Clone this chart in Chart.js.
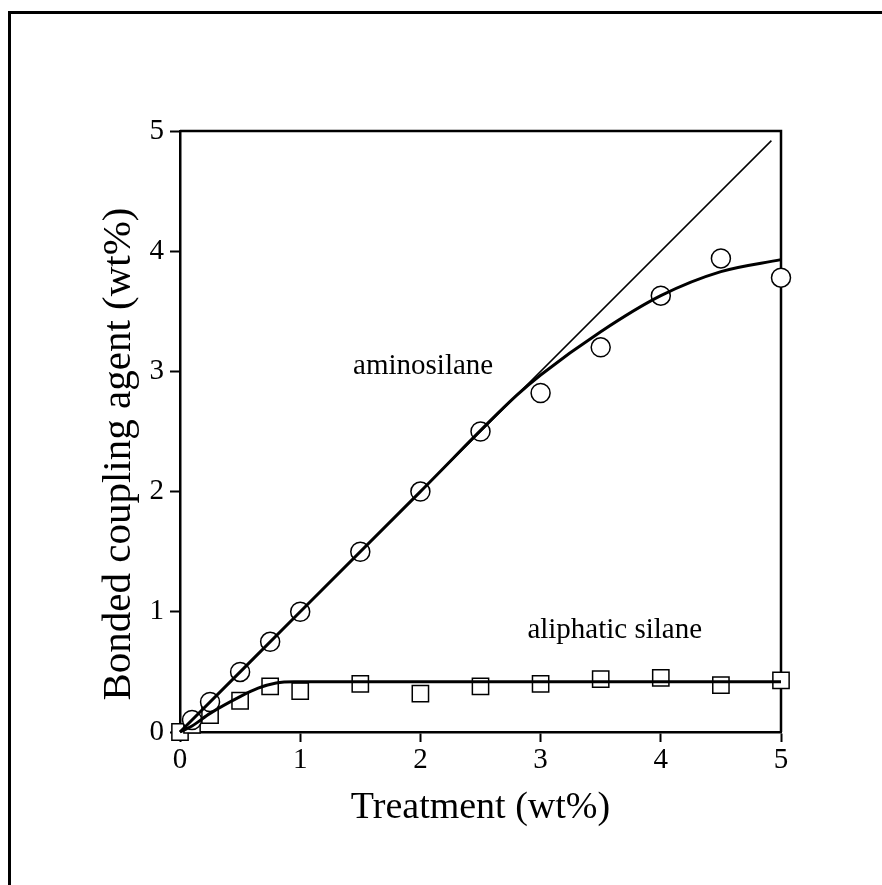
<!DOCTYPE html>
<html>
<head>
<meta charset="utf-8">
<title>Bonded coupling agent vs treatment</title>
<script src="https://cdn.jsdelivr.net/npm/chart.js@4.4.1/dist/chart.umd.min.js"></script>
<style>
    html, body { margin: 0; padding: 0; background: #fff; overflow: hidden; }
    #frame {
        position: absolute; left: 8px; top: 11px; width: 2000px; height: 2000px;
        border-left: 3px solid #000; border-top: 3px solid #000;
    }
    #chart { position: absolute; left: 0; top: 0; }
</style>
</head>
<body>
<div id="frame"></div>
<canvas id="chart" width="882" height="885"></canvas>
<script>
// measured points
const treatment = [0, 0.1, 0.25, 0.5, 0.75, 1, 1.5, 2, 2.5, 3, 3.5, 4, 4.5, 5];
const aminoX = [0.1, 0.25, 0.5, 0.75, 1, 1.5, 2, 2.5, 3, 3.5, 4, 4.5, 5];
const aminoY = [0.1, 0.25, 0.5, 0.75, 1, 1.5, 2, 2.5, 2.82, 3.2, 3.63, 3.94, 3.78];
const aliphY = [0, 0.06, 0.14, 0.26, 0.38, 0.34, 0.40, 0.32, 0.38, 0.40, 0.44, 0.45, 0.39, 0.43];

// fitted curves
const aminoFitX = [0, 1, 2, 2.8, 3, 3.5, 4, 4.5, 5];
const aminoFitY = [0, 1, 2, 2.8, 2.97, 3.33, 3.63, 3.83, 3.93];
const aliphFitX = [0, 0.1, 0.25, 0.5, 0.65, 0.8, 0.95, 5];
const aliphFitY = [0, 0.05, 0.155, 0.295, 0.365, 0.408, 0.418, 0.418];

// 1:1 reference line
const idealX = [0, 4.92];
const idealY = [0, 4.92];

const xTicks = [0, 1, 2, 3, 4, 5];
const yTicks = [0, 1, 2, 3, 4, 5];

const serif = "'Liberation Serif', 'Times New Roman', serif";

function pts(xs, ys) {
    return xs.map((x, i) => ({ x: x, y: ys[i] }));
}

// box around the plot, curve labels and the rotated y title
const decorations = {
    id: 'decorations',
    beforeDatasetsDraw(chart) {
        const { ctx, chartArea: a } = chart;
        ctx.save();
        ctx.strokeStyle = '#000';
        ctx.lineWidth = 2.5;
        ctx.beginPath();
        ctx.moveTo(a.left, a.top);
        ctx.lineTo(a.right, a.top);
        ctx.lineTo(a.right, a.bottom);
        ctx.stroke();
        ctx.restore();
    },
    afterDraw(chart) {
        const { ctx, scales } = chart;
        ctx.save();
        ctx.fillStyle = '#000';
        ctx.font = '29px ' + serif;
        ctx.textBaseline = 'alphabetic';
        ctx.textAlign = 'left';
        ctx.fillText('aminosilane', scales.x.getPixelForValue(1.44), scales.y.getPixelForValue(2.98));
        ctx.fillText('aliphatic silane', scales.x.getPixelForValue(2.89), scales.y.getPixelForValue(0.78));

        ctx.translate(119, 454);
        ctx.rotate(-Math.PI / 2);
        ctx.font = '41px ' + serif;
        ctx.textAlign = 'center';
        ctx.textBaseline = 'middle';
        ctx.fillText('Bonded coupling agent (wt%)', 0, 0);
        ctx.restore();
    }
};

new Chart(document.getElementById('chart'), {
    type: 'scatter',
    data: {
        datasets: [
            {
                label: 'aminosilane fit',
                data: pts(aminoFitX, aminoFitY),
                showLine: true,
                borderColor: '#000',
                borderWidth: 3,
                pointRadius: 0,
                cubicInterpolationMode: 'monotone',
                clip: false,
                order: 0
            },
            {
                label: 'aliphatic silane fit',
                data: pts(aliphFitX, aliphFitY),
                showLine: true,
                borderColor: '#000',
                borderWidth: 3,
                pointRadius: 0,
                cubicInterpolationMode: 'monotone',
                clip: false,
                order: 0
            },
            {
                label: '1:1',
                data: pts(idealX, idealY),
                showLine: true,
                borderColor: '#000',
                borderWidth: 1.5,
                pointRadius: 0,
                clip: false,
                order: 0
            },
            {
                label: 'aminosilane',
                data: pts(aminoX, aminoY),
                pointStyle: 'circle',
                pointRadius: 9.5,
                borderWidth: 1.5,
                borderColor: '#000',
                backgroundColor: '#fff',
                clip: false,
                order: 1
            },
            {
                label: 'aliphatic silane',
                data: pts(treatment, aliphY),
                pointStyle: 'rect',
                pointRadius: 11.5,
                borderWidth: 1.5,
                borderColor: '#000',
                backgroundColor: '#fff',
                clip: false,
                order: 1
            }
        ]
    },
    options: {
        responsive: false,
        animation: false,
        events: [],
        layout: { padding: { top: 131, right: 101, left: 0, bottom: 54 } },
        plugins: {
            legend: { display: false },
            tooltip: { enabled: false }
        },
        scales: {
            x: {
                type: 'linear',
                min: 0,
                max: 5,
                afterFit: s => { s.height = 99; },
                afterBuildTicks: s => { s.ticks = xTicks.map(v => ({ value: v })); },
                border: { display: true, color: '#000', width: 2.5 },
                grid: { drawOnChartArea: false, color: '#000', tickLength: 10, tickWidth: 2 },
                ticks: { color: '#000', padding: 1, font: { family: serif, size: 29 } },
                title: {
                    display: true,
                    text: 'Treatment (wt%)',
                    color: '#000',
                    padding: { top: 0, bottom: 0 },
                    font: { family: serif, size: 38 }
                }
            },
            y: {
                type: 'linear',
                min: 0,
                max: 5,
                afterFit: s => { s.width = 180; },
                afterBuildTicks: s => { s.ticks = yTicks.map(v => ({ value: v })); },
                border: { display: true, color: '#000', width: 2.5 },
                grid: { drawOnChartArea: false, color: '#000', tickLength: 10, tickWidth: 2 },
                ticks: { color: '#000', padding: 6, font: { family: serif, size: 29 } }
            }
        }
    },
    plugins: [decorations]
});
</script>
</body>
</html>
